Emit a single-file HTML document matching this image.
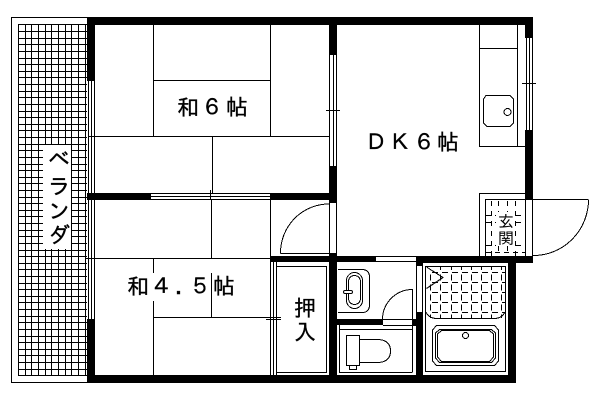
<!DOCTYPE html>
<html><head><meta charset="utf-8"><style>
html,body{margin:0;padding:0;background:#fff}
svg{display:block}
text{font-family:"IPAGothic","Liberation Sans","Noto Sans CJK JP",sans-serif;fill:#000;font-size:22px;stroke:#000;stroke-width:.35px}
.l{fill:none;stroke:#000;stroke-width:1;shape-rendering:crispEdges}
</style></head><body>
<svg width="600" height="400" viewBox="0 0 600 400" xmlns="http://www.w3.org/2000/svg">
<rect width="600" height="400" fill="#fff"/>
<!-- balcony -->
<path class="l" d="M88 17.5H11.5V382.5H88"/>
<path class="l" d="M18.5 24V375M25.5 24V375M31.5 24V375M38.5 24V375M45.5 24V375M51.5 24V375M58.5 24V375M65.5 24V375M71.5 24V375M78.5 24V375M85.5 24V375"/>
<path class="l" d="M18 24.5H87M18 31.5H87M18 38.5H87M18 44.5H87M18 51.5H87M18 58.5H87M18 64.5H87M18 71.5H87M18 77.5H87M18 84.5H87M18 91.5H87M18 97.5H87M18 104.5H87M18 111.5H87M18 117.5H87M18 124.5H87M18 130.5H87M18 137.5H87M18 144.5H87M18 150.5H87M18 157.5H87M18 164.5H87M18 170.5H87M18 177.5H87M18 183.5H87M18 190.5H87M18 197.5H87M18 203.5H87M18 210.5H87M18 216.5H87M18 223.5H87M18 230.5H87M18 236.5H87M18 243.5H87M18 250.5H87M18 256.5H87M18 263.5H87M18 269.5H87M18 276.5H87M18 283.5H87M18 289.5H87M18 296.5H87M18 302.5H87M18 309.5H87M18 316.5H87M18 322.5H87M18 329.5H87M18 336.5H87M18 342.5H87M18 349.5H87M18 355.5H87M18 362.5H87M18 369.5H87M18 375.5H87"/>
<rect x="43" y="145" width="28" height="104" fill="#fff"/>
<text x="48" y="167">ベ</text>
<text x="48" y="194">ラ</text>
<text x="48" y="219">ン</text>
<text x="48" y="243">ダ</text>
<!-- walls -->
<g fill="#000" shape-rendering="crispEdges">
<rect x="87" y="17" width="446" height="8"/>
<rect x="87" y="17" width="8" height="64"/>
<rect x="87" y="319" width="8" height="64"/>
<rect x="87" y="375" width="429" height="8"/>
<rect x="87" y="193" width="64" height="7"/>
<rect x="270" y="193" width="67" height="7"/>
<rect x="329" y="17" width="8" height="38"/>
<rect x="329" y="166" width="8" height="37"/>
<rect x="329" y="253" width="8" height="130"/>
<rect x="270" y="256" width="106" height="6"/>
<rect x="416" y="256" width="117" height="7"/>
<rect x="416" y="256" width="7" height="10"/>
<rect x="416" y="312" width="7" height="71"/>
<rect x="337" y="319" width="46" height="6"/>
<rect x="412" y="319" width="11" height="6"/>
<rect x="508" y="256" width="8" height="127"/>
<rect x="525" y="17" width="8" height="21"/>
<rect x="525" y="130" width="8" height="69"/>
</g>
<!-- windows -->
<path class="l" d="M88.5 81V319M91.5 81V319M94.5 81V319M151 193.5H270M151 196.5H270M151 199.5H270M329.5 55V166M333.5 55V166M336.5 55V166M329.5 203V253M336.5 203V253M526.5 38V130M529.5 38V130M532.5 38V130M376 256.5H416M376 261.5H416M416.5 266V312M422.5 266V312"/>
<!-- tatami 6 -->
<path class="l" d="M153.5 25V136M153.5 80.5H270M270.5 25V136M88 136.5H329M212.5 136V193M210.5 190V199M326 110.5H340M85 258.5H270"/>
<!-- tatami 4.5 -->
<path class="l" d="M153.5 258V273M153.5 301V375M153.5 317.5H281M211.5 200V258M211.5 273V317M270.5 200V256"/>
<!-- closet -->
<path class="l" d="M270.5 262V375M273.5 262V375M276.5 262V375M276.5 266.5H326.5V372.5H276.5"/>
<path class="l" d="M266 319.5H281"/>
<!-- door -->
<path class="l" d="M280.5 253.5H329M280.5 253.5A49 49 0 0 1 329 204"/>
<!-- washroom -->
<path class="l" d="M338 269.5H362Q369.5 269.5 369.5 277V305Q369.5 312.5 362 312.5H338"/>
<rect class="l" x="346.5" y="272.5" width="16" height="36" rx="8"/>
<rect class="l" x="348.5" y="275.5" width="12" height="29" rx="6"/>
<rect x="343.5" y="290.5" width="9" height="3" rx="1.5" fill="#fff" stroke="#000"/>
<path class="l" d="M383 319.5H416M383 325.5H416M382.5 319A30 30 0 0 1 412 289.5H412.5V372"/>
<!-- toilet -->
<path class="l" d="M339.5 325V372.5H412.5M339.5 329.5H412.5"/>
<rect class="l" x="346.5" y="335.5" width="13" height="30"/>
<rect class="l" x="349.5" y="365.5" width="7" height="4"/>
<path class="l" d="M359.5 339.5H378Q390.5 340 390.5 351T378 362.5H359.5"/>
<!-- kitchen -->
<path class="l" d="M479.5 25V146.5H525M479.5 48.5H517.5M517.5 25V146M522 83.5H536"/>
<path class="l" d="M486 95.5H510L513.5 99V123L510 126.5H487L483.5 123V99Z"/>
<circle class="l" cx="507.5" cy="112" r="3.5"/>
<!-- genkan -->
<path class="l" d="M479.5 256V193.5H525M485.5 256V199.5H588M525.5 199V256M532.5 199V256M533 255.5A55 56 0 0 0 588.5 199.5"/>
<path class="l" stroke-dasharray="5 5" d="M491.5 201V256M498.5 201V212M507.5 201V212M515.5 201V256M498.5 246V256M507.5 246V256"/>
<path class="l" stroke-dasharray="5 4" d="M486 215.5H496M516 215.5H525M486 222.5H496M516 222.5H525M486 245.5H496M516 245.5H525M486 252.5H525"/>
<text x="498" y="227" style="font-size:16px;stroke-width:0">玄</text>
<text x="498" y="244" style="font-size:16px;stroke-width:0">関</text>
<!-- bath -->
<path class="l" d="M425.5 266.5H505.5V371.5H425.5Z"/>
<path class="l" d="M426.5 267L443 277.5L426.5 288.5"/>
<path class="l" d="M426 312Q429 318.5 437 318.5H494Q502 318.5 505 312"/>
<path class="l" stroke-dasharray="6 4" d="M432 272.5H505M432 282.5H505M432 292.5H505M432 302.5H505M432 312.5H505"/>
<path class="l" stroke-dasharray="6 4" d="M430.5 274.5V318M440.5 274.5V318M451.5 274.5V318M461.5 274.5V318M471.5 274.5V318M481.5 274.5V318M491.5 274.5V318M501.5 274.5V318"/>
<path class="l" d="M440.5 267V270M451.5 267V270M461.5 267V270M471.5 267V270M481.5 267V270M491.5 267V270M501.5 267V270"/>
<path class="l" d="M436.5 325.5H494.5L498.5 330V361L494.5 365.5H436.5L432.5 361V330Z"/>
<path class="l" d="M439.5 329.5H491.5L495.5 333V358L491.5 362.5H439.5L435.5 358V333Z"/>
<path class="l" d="M441.5 330.5H489.5L493.5 334V357L489.5 361.5H441.5L437.5 357V334Z"/>
<circle class="l" cx="465.5" cy="335.5" r="3"/>
<!-- labels -->
<text x="177" y="115">和</text><text x="201" y="115">６</text><text x="226" y="115">帖</text>
<text x="365" y="150">Ｄ</text><text x="389" y="150">Ｋ</text><text x="413" y="150">６</text><text x="437" y="150">帖</text>
<text x="127" y="294">和</text><text x="151" y="294">４</text><text x="175" y="294">．</text><text x="189" y="294">５</text><text x="213" y="294">帖</text>
<text x="294" y="316">押</text><text x="294" y="340">入</text>
</svg>
</body></html>
